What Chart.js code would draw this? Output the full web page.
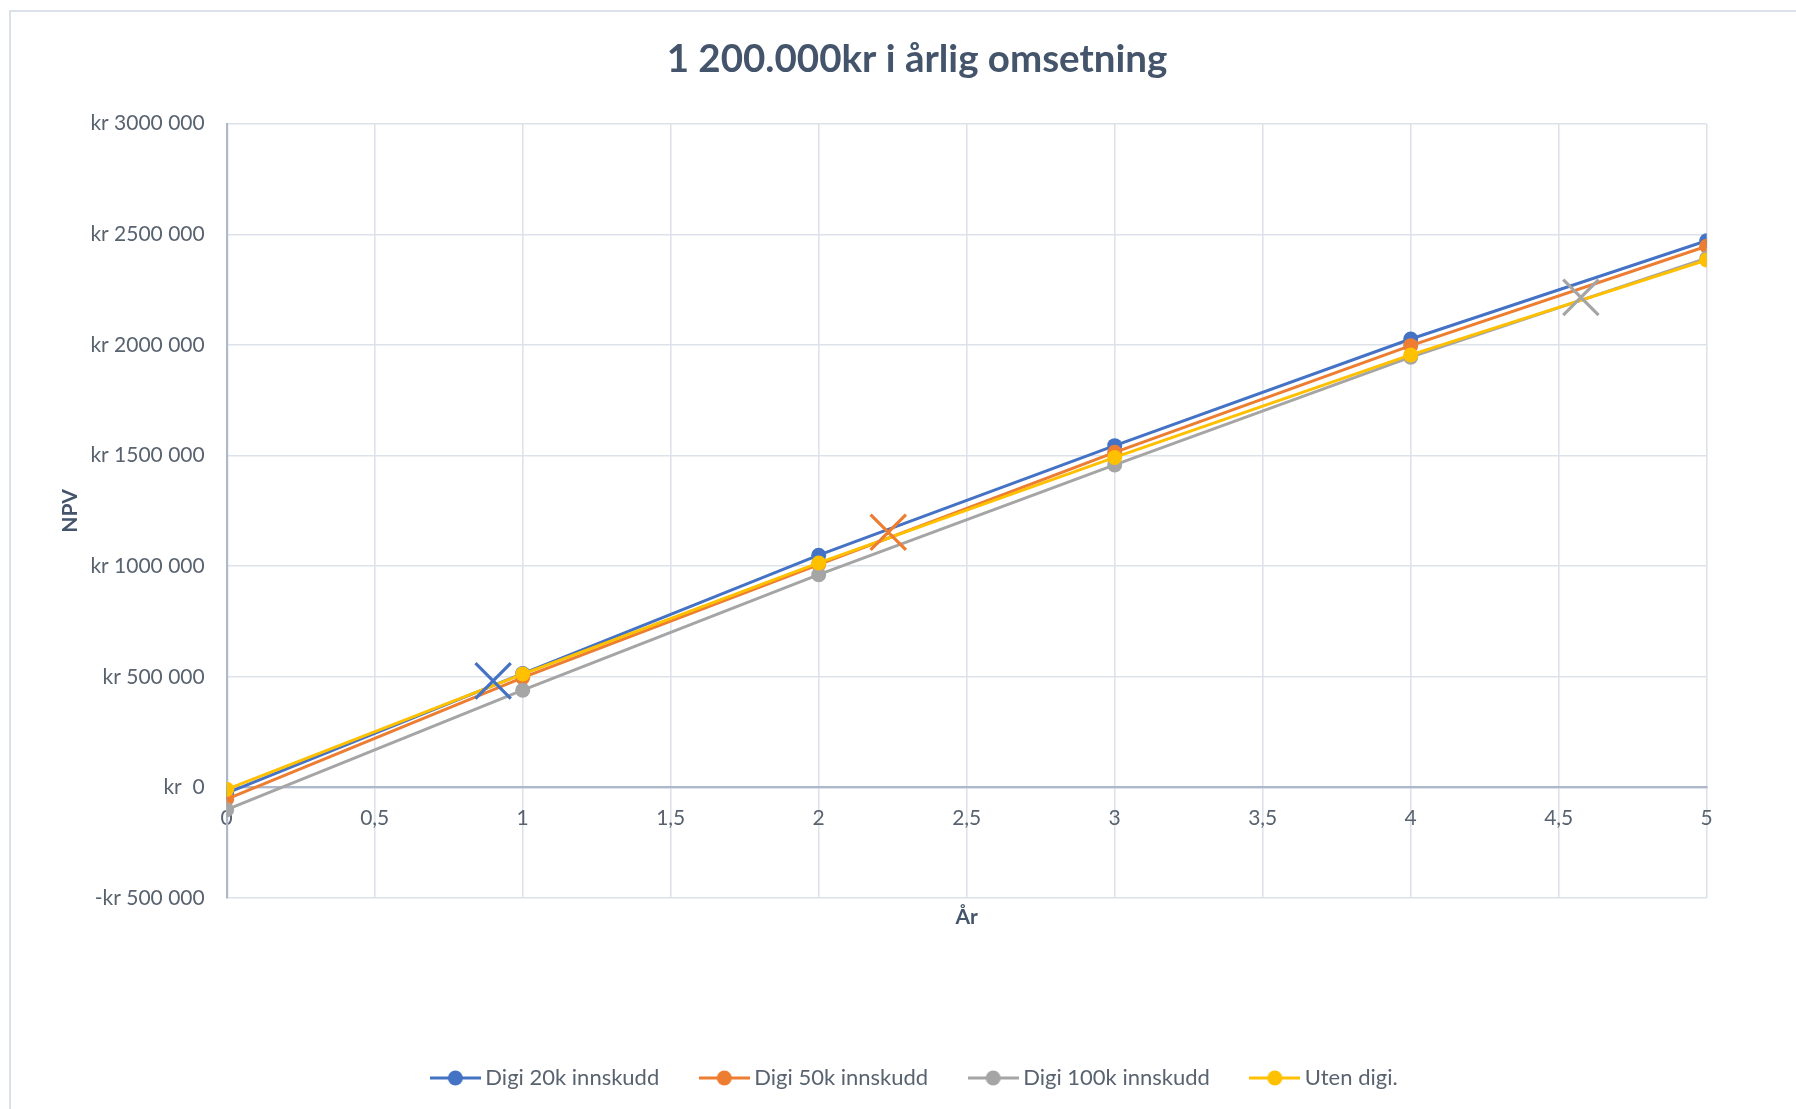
<!DOCTYPE html>
<html>
<head>
<meta charset="utf-8">
<title>NPV – 1 200.000kr i årlig omsetning</title>
<script src="https://cdn.jsdelivr.net/npm/chart.js@4.4.1/dist/chart.umd.min.js"></script>
<style>
  html, body { margin: 0; padding: 0; background: #ffffff; overflow: hidden; }
  canvas { display: block; }
</style>
</head>
<body>
<canvas id="npvChart" width="1834" height="1109"></canvas>
<script>
// Year axis and NPV per scenario (kr)
const years = [0, 1, 2, 3, 4, 5];
const digi20k  = [-25000, 515000, 1050000, 1545000, 2027000, 2471000];
const digi50k  = [-52000, 497000, 1008000, 1515000, 1997000, 2446000];
const digi100k = [-100000, 440000, 962000, 1458000, 1945000, 2392000];
const utenDigi = [-8000, 513000, 1015000, 1492000, 1955000, 2384000];

// Break-even points (year, NPV) for each digital scenario
const breakEvenYears  = [0.9, 2.235, 4.575];
const breakEvenValues = [482000, 1154000, 2215000];

const seriesNames  = ['Digi 20k innskudd', 'Digi 50k innskudd', 'Digi 100k innskudd', 'Uten digi.'];
const seriesColors = ['#4472C4', '#ED7D31', '#A5A5A5', '#FFC000'];

const xTickLabels = ['0', '0,5', '1', '1,5', '2', '2,5', '3', '3,5', '4', '4,5', '5'];
const yTickLabels = ['-kr 500 000', 'kr  0', 'kr 500 000', 'kr 1000 000', 'kr 1500 000',
                     'kr 2000 000', 'kr 2500 000', 'kr 3000 000'];

const FONT = 'Lato';
const TITLE_COLOR = '#44546A';
const TEXT_COLOR = '#59636F';
const GRID_COLOR = '#DDE2EA';
const AXIS_COLOR = '#AEB8CA';
const CANVAS_W = 1834;

const toPoints = (xs, ys) => xs.map((x, i) => ({ x: x, y: ys[i] }));

// Legend swatch: short line with a round marker in the middle
function legendSwatch(color) {
  const c = document.createElement('canvas');
  c.width = 51; c.height = 18;
  const g = c.getContext('2d');
  g.strokeStyle = color; g.lineWidth = 2.8;
  g.beginPath(); g.moveTo(0, 9); g.lineTo(51, 9); g.stroke();
  g.fillStyle = color;
  g.beginPath(); g.arc(25.5, 9, 7.5, 0, Math.PI * 2); g.fill();
  return c;
}
const swatches = seriesColors.map(legendSwatch);

const lineSeries = [digi20k, digi50k, digi100k, utenDigi].map((vals, i) => ({
  label: seriesNames[i],
  data: toPoints(years, vals),
  borderColor: seriesColors[i],
  backgroundColor: seriesColors[i],
  borderWidth: 3,
  pointRadius: 7.5,
  pointBorderWidth: 0,
  pointBackgroundColor: seriesColors[i],
  tension: 0,
  order: 4 - i
}));

const crossSeries = breakEvenYears.map((yr, i) => ({
  label: 'break-even ' + seriesNames[i],
  data: [{ x: yr, y: breakEvenValues[i] }],
  showLine: false,
  pointStyle: 'crossRot',
  pointRadius: 25,
  pointBorderWidth: 3.2,
  borderColor: seriesColors[i],
  backgroundColor: seriesColors[i],
  order: -1
}));

// White page with a light frame around the chart
const framePlugin = {
  id: 'frame',
  beforeDraw(chart) {
    const ctx = chart.ctx;
    ctx.save();
    ctx.fillStyle = '#ffffff';
    ctx.fillRect(0, 0, chart.width, chart.height);
    ctx.strokeStyle = '#DCE0E8';
    ctx.lineWidth = 2;
    ctx.strokeRect(10, 11, chart.width, chart.height);
    ctx.restore();
  }
};

new Chart(document.getElementById('npvChart'), {
  type: 'line',
  data: { datasets: [...lineSeries, ...crossSeries] },
  plugins: [framePlugin],
  options: {
    responsive: false,
    devicePixelRatio: 1,
    animation: false,
    layout: { padding: { top: 0, left: 0, right: 0, bottom: 10 } },
    plugins: {
      tooltip: { enabled: false },
      title: {
        display: true,
        text: '1 200.000kr i årlig omsetning',
        color: TITLE_COLOR,
        font: { family: FONT, size: 38.5, weight: 'bold', lineHeight: 1.2 },
        padding: { top: 36, bottom: 41.5 }
      },
      legend: {
        position: 'bottom',
        labels: {
          usePointStyle: true,
          pointStyleWidth: 38,
          padding: 46,
          color: TEXT_COLOR,
          font: { family: FONT, size: 22 },
          filter: item => item.datasetIndex < seriesNames.length,
          sort: (a, b) => a.datasetIndex - b.datasetIndex,
          generateLabels(chart) {
            const items = Chart.defaults.plugins.legend.labels.generateLabels(chart);
            items.forEach(it => {
              if (it.datasetIndex < swatches.length) it.pointStyle = swatches[it.datasetIndex];
            });
            return items;
          }
        }
      }
    },
    scales: {
      x: {
        type: 'linear',
        min: 0,
        max: 5,
        position: { y: 0 },
        grid: { color: GRID_COLOR, lineWidth: 1.6, drawTicks: false },
        border: { display: true, color: AXIS_COLOR, width: 2.2 },
        ticks: {
          stepSize: 0.5,
          autoSkip: false,
          maxRotation: 0,
          padding: 18,
          color: TEXT_COLOR,
          font: { family: FONT, size: 21 },
          callback: (v, i) => xTickLabels[i]
        }
      },
      xTitle: {
        type: 'linear',
        position: 'bottom',
        min: 0,
        max: 5,
        grid: { display: false },
        border: { display: false },
        ticks: { display: false },
        title: {
          display: true,
          text: 'År',
          color: TITLE_COLOR,
          font: { family: FONT, size: 21, weight: 'bold', lineHeight: 1.2 },
          padding: { top: 0, bottom: 91 }
        },
        afterFit(scale) { scale.height = 122.8; }
      },
      y: {
        type: 'linear',
        position: 'left',
        min: -500000,
        max: 3000000,
        grid: { color: GRID_COLOR, lineWidth: 1.6, drawTicks: false },
        border: { display: true, color: AXIS_COLOR, width: 2.2 },
        ticks: {
          stepSize: 500000,
          padding: 22,
          color: TEXT_COLOR,
          font: { family: FONT, size: 21 },
          callback: (v, i) => yTickLabels[i]
        },
        title: {
          display: true,
          text: 'NPV',
          color: TITLE_COLOR,
          font: { family: FONT, size: 21, weight: 'bold', lineHeight: 1.2 },
          padding: { top: 57.4, bottom: 0 }
        },
        afterFit(scale) { scale.width = 226.7; }
      },
      yRight: {
        type: 'linear',
        position: 'right',
        grid: { display: false },
        border: { display: false },
        ticks: { display: false },
        afterFit(scale) { scale.width = CANVAS_W - 1706.7; }
      }
    }
  }
});
</script>
</body>
</html>
